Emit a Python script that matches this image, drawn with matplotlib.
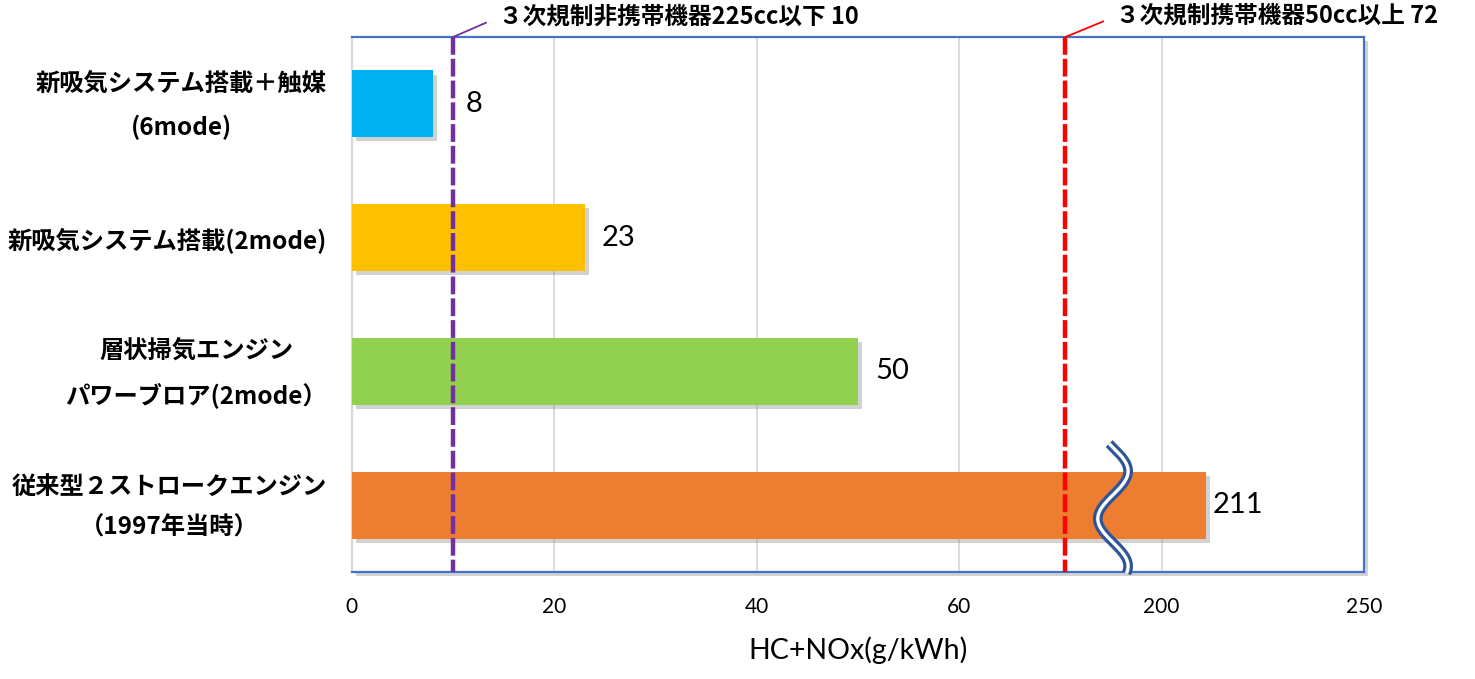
import matplotlib
matplotlib.use('Agg')
import matplotlib.pyplot as plt
import matplotlib.patheffects as pe
import numpy as np

plt.rcParams['font.family'] = ['Noto Sans CJK JP', 'DejaVu Sans']

categories = ['新吸気システム搭載＋触媒\n(6mode)',
              '新吸気システム搭載(2mode)',
              '層状掃気エンジン\nパワーブロア(2mode）',
              '従来型２ストロークエンジン\n（1997年当時）']
values = [8, 23, 50, 211]
colors = ['#00B0F0', '#FFC000', '#92D050', '#ED7D31']
label_offsets = [33, 17, 17, 7]   # px, as placed in the original

tick_values = [0, 20, 40, 60, 200, 250]

limit_labels = ['３次規制非携帯機器225cc以下 10', '３次規制携帯機器50cc以上 72']
limit_pos = [10, 70.5]
limit_colors = ['#7030A0', '#FF0000']
limit_text_off = [(46, 20), (51, 21)]

break_at = 75.2


def to_axis(v):
    # broken axis: 0-60 linear, then 200 and 250 on the next two ticks
    return np.interp(v, [0, 60, 200, 250], [0, 60, 80, 100])


fig = plt.figure(figsize=(14.75, 6.79), dpi=100)
ax = fig.add_axes([0.2386, 0.1576, 0.6861, 0.7879])

shadow = [pe.SimplePatchShadow(offset=(3, -3), shadow_rgbFace='#7f7f7f', alpha=0.35), pe.Normal()]
ax.patch.set_path_effects(shadow)

y = np.arange(len(values))
bars = ax.barh(y, to_axis(values), height=0.5, color=colors, zorder=3)
for b in bars:
    b.set_path_effects(shadow)

for i, v in enumerate(values):
    ax.annotate(str(v), xy=(to_axis(v), i), xytext=(label_offsets[i], 0),
                textcoords='offset pixels', ha='left', va='center',
                fontsize=21, family='Lato', color='black')

# category labels
for i, cat in enumerate(categories):
    ax.annotate(cat, xy=(0, i), xytext=(-25, -2), textcoords='offset pixels',
                ha='right', va='center', multialignment='center', linespacing=1.9,
                fontsize=17.5, fontweight='bold', annotation_clip=False)

for pos, lab, c, off in zip(limit_pos, limit_labels, limit_colors, limit_text_off):
    ax.plot([pos, pos], [-0.5, 3.5], color=c, lw=3.2, dashes=(4.0, 0.9), zorder=4,
            clip_on=False)
    ax.annotate(lab, xy=(pos, 1.0), xycoords=('data', 'axes fraction'),
                xytext=off, textcoords='offset pixels', ha='left', va='center',
                fontsize=17, fontweight='bold',
                arrowprops=dict(arrowstyle='-', color=c, lw=1.3, shrinkA=8, shrinkB=0,
                                relpos=(0, 0.5)))

# wavy break mark
t = np.linspace(0, 1, 200)
theta = -0.08 * np.pi + t * 2.73 * np.pi
bx = break_at + 1.5 * np.sin(theta)
by = 2.54 + t * (3.51 - 2.54)
ax.plot(bx, by, color='#2F5597', lw=7, solid_capstyle='butt', zorder=6, clip_on=False)
ax.plot(bx, by, color='white', lw=2.4, solid_capstyle='butt', zorder=7, clip_on=False)

ax.set_xlim(0, 100)
ax.set_ylim(3.5, -0.5)
ax.set_xticks(to_axis(tick_values))
ax.set_xticklabels([str(v) for v in tick_values], family='Lato', fontsize=15)
ax.set_yticks([])

ax.tick_params(axis='x', length=0, pad=18)
ax.xaxis.grid(True, color='#D9D9D9', lw=1.3)
ax.set_axisbelow(True)

for s in ['top', 'right', 'bottom']:
    ax.spines[s].set_color('#4472C4')
    ax.spines[s].set_linewidth(1.6)
ax.spines['left'].set_color('#D9D9D9')
ax.spines['left'].set_linewidth(1.6)

ax.set_xlabel('HC+NOx(g/kWh)', family='Lato', fontsize=20.5, labelpad=14)

fig.savefig('out.png', dpi=100)
